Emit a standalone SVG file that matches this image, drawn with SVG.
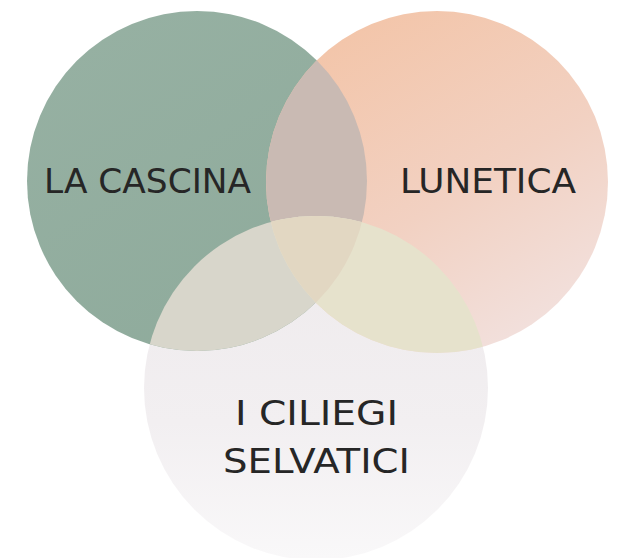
<svg xmlns="http://www.w3.org/2000/svg" width="617" height="558" viewBox="0 0 617 558">
  <style>
    .lbl { font-family: "DejaVu Sans", "Liberation Sans", sans-serif; font-size: 34px; fill: #262626; }
  </style>
  <defs>
    <linearGradient id="gGreen" x1="0" y1="0" x2="0.6" y2="1">
      <stop offset="0" stop-color="#97b1a3"/>
      <stop offset="1" stop-color="#8fab9c"/>
    </linearGradient>
    <linearGradient id="gOrange" x1="0.2" y1="0" x2="0.8" y2="1">
      <stop offset="0" stop-color="#f3c4a7"/>
      <stop offset="0.55" stop-color="#f2d1c2"/>
      <stop offset="1" stop-color="#f2e2e0"/>
    </linearGradient>
    <linearGradient id="gWhite" x1="0" y1="0" x2="0" y2="1">
      <stop offset="0" stop-color="#eeeaec"/>
      <stop offset="0.6" stop-color="#f2eff1"/>
      <stop offset="1" stop-color="#f9f8f9"/>
    </linearGradient>
    <clipPath id="cGreen"><circle cx="197" cy="181" r="170"/></clipPath>
    <clipPath id="cOrange"><circle cx="437" cy="182" r="171"/></clipPath>
    <clipPath id="cWhite"><circle cx="316" cy="388" r="172"/></clipPath>
  </defs>
  <rect width="617" height="558" fill="#ffffff"/>
  <g id="node-bottom">
    <circle cx="316" cy="388" r="172" fill="url(#gWhite)"/>
  </g>
  <g id="node-green">
    <circle cx="197" cy="181" r="170" fill="url(#gGreen)"/>
  </g>
  <g id="node-orange">
    <circle cx="437" cy="182" r="171" fill="url(#gOrange)"/>
  </g>
  <g id="overlaps">
    <g clip-path="url(#cGreen)">
      <circle cx="437" cy="182" r="171" fill="#c9bab3"/>
      <circle cx="316" cy="388" r="172" fill="#d8d6cb"/>
    </g>
    <g clip-path="url(#cOrange)">
      <circle cx="316" cy="388" r="172" fill="#e6e2cc"/>
    </g>
    <g clip-path="url(#cGreen)">
      <g clip-path="url(#cOrange)">
        <circle cx="316" cy="388" r="172" fill="#e2d7c2"/>
      </g>
    </g>
  </g>
  <g id="labels">
    <text class="lbl" x="44" y="193" textLength="207" lengthAdjust="spacingAndGlyphs">LA CASCINA</text>
    <text class="lbl" x="400" y="193" textLength="176" lengthAdjust="spacingAndGlyphs">LUNETICA</text>
    <text class="lbl" x="235" y="425" textLength="163" lengthAdjust="spacingAndGlyphs">I CILIEGI</text>
    <text class="lbl" x="223" y="473" textLength="187" lengthAdjust="spacingAndGlyphs">SELVATICI</text>
  </g>
</svg>
